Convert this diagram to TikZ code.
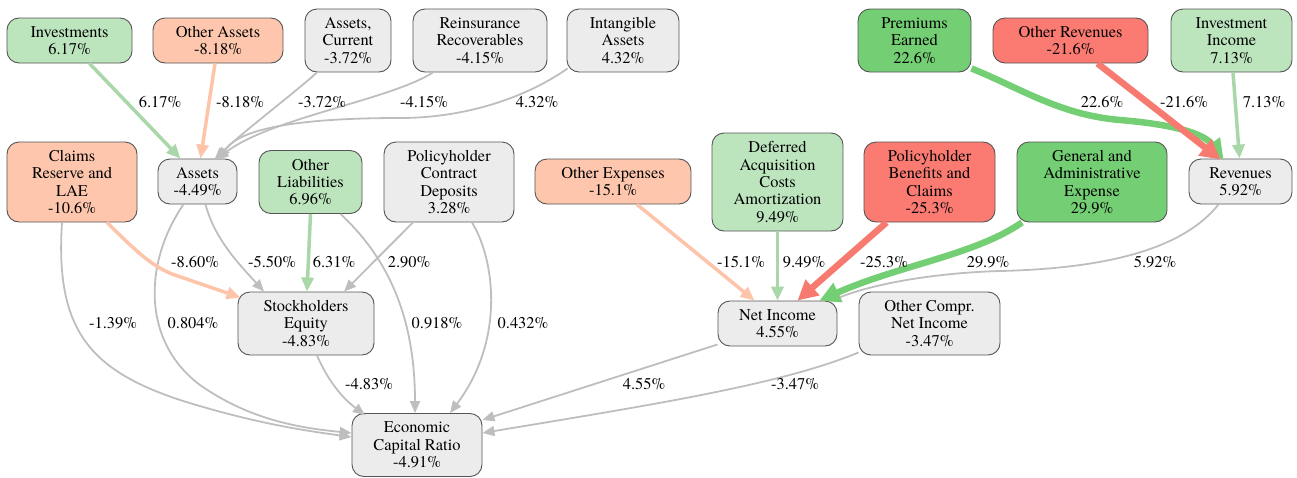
\documentclass[tikz,border=0pt]{standalone}
\usepackage{fontspec}
\setmainfont{TeX Gyre Termes}
\usetikzlibrary{arrows.meta,calc}
\definecolor{flg}{RGB}{188,229,190}
\definecolor{fmg}{RGB}{116,207,116}
\definecolor{fsal}{RGB}{253,198,173}
\definecolor{fred}{RGB}{251,123,114}
\definecolor{fgray}{RGB}{236,236,236}
\definecolor{nborder}{RGB}{85,85,85}
\definecolor{egray}{RGB}{190,190,190}
\definecolor{elg}{RGB}{170,215,170}
\definecolor{esal}{RGB}{253,196,170}
\definecolor{ered}{RGB}{247,122,112}
\definecolor{emg}{RGB}{116,207,116}
\tikzset{
  box/.style={draw=nborder, line width=0.9pt, rounded corners=12pt, align=center, inner sep=0pt,
    font=\rmfamily\fontsize{16.4}{17.4}\selectfont},
  lbl/.style={inner sep=0pt, font=\rmfamily\fontsize{16.4}{17.4}\selectfont},
  eg/.style={draw=egray, line width=1.8pt, -{Triangle[length=12pt,width=10pt]}},
  elgs/.style={draw=elg, line width=3.5pt, -{Triangle[length=14pt,width=12pt]}},
  esals/.style={draw=esal, line width=3.5pt, -{Triangle[length=14pt,width=12pt]}},
  ereds/.style={draw=ered, line width=6.5pt, -{Triangle[length=20pt,width=20pt]}},
  emgs/.style={draw=emg, line width=6.5pt, -{Triangle[length=20pt,width=20pt]}},
}
\begin{document}
\begin{tikzpicture}[x=1pt,y=-1pt]
\useasboundingbox (0,0) rectangle (1297,477);
% nodes
\node[box, fill=flg, minimum width=125pt, minimum height=45pt] (inv) at (69.5,40.5) {Investments\\6.17\%};
\node[box, fill=fsal, minimum width=130pt, minimum height=45pt] (oas) at (218,40.5) {Other Assets\\-8.18\%};
\node[box, fill=fgray, minimum width=86pt, minimum height=63pt] (acur) at (348,40.5) {Assets,\\Current\\-3.72\%};
\node[box, fill=fgray, minimum width=134pt, minimum height=63pt] (rein) at (480,40.5) {Reinsurance\\Recoverables\\-4.15\%};
\node[box, fill=fgray, minimum width=112pt, minimum height=63pt] (intg) at (623,40.5) {Intangible\\Assets\\4.32\%};
\node[box, fill=fmg, minimum width=113pt, minimum height=63pt] (prem) at (914.5,40.5) {Premiums\\Earned\\22.6\%};
\node[box, fill=fred, minimum width=155pt, minimum height=45pt] (orev) at (1070.5,40.5) {Other Revenues\\-21.6\%};
\node[box, fill=flg, minimum width=121pt, minimum height=63pt] (invinc) at (1231.5,40.5) {Investment\\Income\\7.13\%};
\node[box, fill=fsal, minimum width=130pt, minimum height=80pt] (claims) at (72,182) {Claims\\Reserve and\\LAE\\-10.6\%};
\node[box, fill=fgray, minimum width=79pt, minimum height=45pt] (assets) at (197.5,181.5) {Assets\\-4.49\%};
\node[box, fill=flg, minimum width=103pt, minimum height=63pt] (oliab) at (310.5,182) {Other\\Liabilities\\6.96\%};
\node[box, fill=fgray, minimum width=130pt, minimum height=80pt] (pcd) at (449,182) {Policyholder\\Contract\\Deposits\\3.28\%};
\node[box, fill=fsal, minimum width=156pt, minimum height=45pt] (oexp) at (613,181.5) {Other Expenses\\-15.1\%};
\node[box, fill=flg, minimum width=131pt, minimum height=98pt] (dac) at (777.5,182) {Deferred\\Acquisition\\Costs\\Amortization\\9.49\%};
\node[box, fill=fred, minimum width=131pt, minimum height=80pt] (pbc) at (929.5,182) {Policyholder\\Benefits and\\Claims\\-25.3\%};
\node[box, fill=fmg, minimum width=150pt, minimum height=80pt] (gae) at (1092,182) {General and\\Administrative\\Expense\\29.9\%};
\node[box, fill=fgray, minimum width=103pt, minimum height=45pt] (rev) at (1240.5,181.5) {Revenues\\5.92\%};
\node[box, fill=fgray, minimum width=136pt, minimum height=63pt] (se) at (306,323.5) {Stockholders\\Equity\\-4.83\%};
\node[box, fill=fgray, minimum width=119pt, minimum height=45pt] (ni) at (777.5,323.5) {Net Income\\4.55\%};
\node[box, fill=fgray, minimum width=141pt, minimum height=63pt] (ocni) at (929.5,323.5) {Other Compr.\\Net Income\\-3.47\%};
\node[box, fill=fgray, minimum width=130pt, minimum height=63pt] (ecr) at (417,445) {Economic\\Capital Ratio\\-4.91\%};
% gray edges
\draw[eg] ($(acur.south)+(-31,0)$) .. controls (292,95) and (245,130) .. ($(assets.north)+(17,1)$);
\draw[eg] ($(rein.south)+(-47,0)$) .. controls (390,100) and (270,118) .. ($(assets.north)+(19,1)$);
\draw[eg] ($(intg.south west)+(1,-4)$) .. controls (530,95) and (470,118) .. (400,118) .. controls (300,118) and (240,128) .. ($(assets.north)+(21,1)$);
\draw[eg] ($(assets.south)+(8,0)$) .. controls (215,240) and (240,265) .. ($(se.north)+(-42,0)$);
\draw[eg] ($(pcd.south)+(-36,0)$) -- ($(se.north)+(38,0)$);
\draw[eg] ($(claims.south)+(-10,0)$) .. controls (55,330) and (90,370) .. (180,400) .. controls (250,422) and (300,430) .. ($(ecr.west)+(0,-8)$);
\draw[eg] ($(assets.south)+(-14,0)$) .. controls (145,260) and (140,340) .. (200,385) .. controls (250,420) and (300,428) .. ($(ecr.west)+(0,-12)$);
\draw[eg] ($(oliab.south east)+(-22,0)$) .. controls (390,260) and (415,320) .. ($(ecr.north)+(-2,0)$);
\draw[eg] ($(pcd.south)+(23,0)$) .. controls (495,260) and (505,340) .. ($(ecr.north)+(33,0)$);
\draw[eg] ($(se.south)+(11,0)$) .. controls (330,385) and (345,400) .. ($(ecr.north)+(-52,2)$);
\draw[eg] ($(rev.south)+(-22,0)$) .. controls (1190,240) and (1130,268) .. (1000,271) .. controls (930,273) and (870,285) .. ($(ni.north east)+(-8,1)$);
\draw[eg] ($(ni.south west)+(0,-2)$) -- ($(ecr.east)+(0,-25)$);
\draw[eg] ($(ocni.south west)+(0,-3)$) .. controls (780,385) and (650,405) .. ($(ecr.east)+(0,-12)$);
% coloured edges
\draw[elgs] ($(inv.south)+(20,0)$) -- ($(assets.north)+(-17,0)$);
\draw[esals] ($(oas.south)+(-3,0)$) -- ($(assets.north)+(3,0)$);
\draw[emgs] ($(prem.south east)+(0,-4)$) .. controls (1020,88) and (1060,115) .. (1120,120) .. controls (1180,125) and (1205,135) .. ($(rev.north)+(-17,1)$);
\draw[ereds] ($(orev.south)+(27,0)$) -- ($(rev.north)+(-20,1)$);
\draw[elgs] ($(invinc.south)+(1.5,0)$) -- ($(rev.north)+(-1,0)$);
\draw[esals] ($(claims.south)+(35,0)$) .. controls (135,250) and (150,265) .. (172,274) -- ($(se.north west)+(3,6)$);
\draw[elgs] (oliab.south) -- ($(se.north)+(1,0)$);
\draw[esals] ($(oexp.south)+(24,0)$) -- ($(ni.north)+(-23,0)$);
\draw[elgs] (dac.south) -- (ni.north);
\draw[ereds] ($(pbc.south)+(-43,0)$) -- ($(ni.north)+(20,0)$);
\draw[emgs] ($(gae.south)+(-70,0)$) .. controls (975,255) and (900,265) .. ($(ni.north east)+(-18,0)$);
% edge labels
\node[lbl] (l1) at (160,102) {6.17\%};
\node[lbl] (l2) at (240,102) {-8.18\%};
\node[lbl] (l3) at (322,102) {-3.72\%};
\node[lbl] (l4) at (424,102) {-4.15\%};
\node[lbl] (l5) at (537,102) {4.32\%};
\node[lbl] (l6) at (1102,102) {22.6\%};
\node[lbl] (l7) at (1184,102) {-21.6\%};
\node[lbl] (l8) at (1264,102) {7.13\%};
\node[lbl] (l9) at (195,262) {-8.60\%};
\node[lbl] (l10) at (272,262) {-5.50\%};
\node[lbl] (l11) at (334,262) {6.31\%};
\node[lbl] (l12) at (409,262) {2.90\%};
\node[lbl] (l13) at (741,262) {-15.1\%};
\node[lbl] (l14) at (804,262) {9.49\%};
\node[lbl] (l15) at (884,262) {-25.3\%};
\node[lbl] (l16) at (988,262) {29.9\%};
\node[lbl] (l17) at (1155,262) {5.92\%};
\node[lbl] (l18) at (113,323) {-1.39\%};
\node[lbl] (l19) at (193,323) {0.804\%};
\node[lbl] (l20) at (437,323) {0.918\%};
\node[lbl] (l21) at (523,323) {0.432\%};
\node[lbl] (l22) at (369,384) {-4.83\%};
\node[lbl] (l23) at (644,384) {4.55\%};
\node[lbl] (l24) at (795,384) {-3.47\%};
\end{tikzpicture}
\end{document}
